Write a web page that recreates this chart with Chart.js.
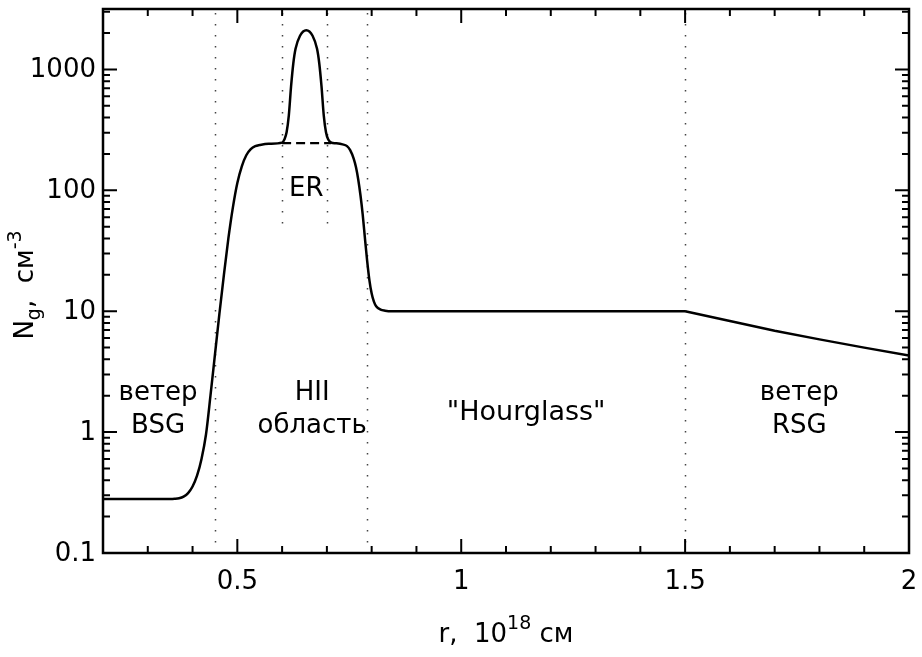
<!DOCTYPE html>
<html>
<head>
<meta charset="utf-8">
<script src="https://cdn.jsdelivr.net/npm/chart.js@4/dist/chart.umd.min.js"></script>
<style>
  html, body { margin: 0; padding: 0; background: #fff; }
</style>
</head>
<body>
<canvas id="chart" width="922" height="657"></canvas>
<script>
// gas density profile, r in 10^18 cm, N in cm^-3
const radius = [
  0.20, 0.30, 0.35, 0.36, 0.37, 0.38, 0.39, 0.40, 0.41, 0.42, 0.43, 0.44, 0.45,
  0.46, 0.47, 0.48, 0.49, 0.50, 0.51, 0.52, 0.53, 0.54, 0.55, 0.57, 0.60,
  0.605, 0.61, 0.615, 0.62, 0.625, 0.63, 0.64, 0.654, 0.668, 0.678, 0.683,
  0.688, 0.693, 0.698, 0.703, 0.71, 0.72, 0.735, 0.745, 0.752, 0.76, 0.765,
  0.77, 0.775, 0.78, 0.785, 0.79, 0.795, 0.80, 0.805, 0.81, 0.82, 0.83, 0.845,
  1.0, 1.5
];
const density = [
  0.28, 0.28, 0.28, 0.281, 0.284, 0.293, 0.313, 0.355, 0.436, 0.60, 0.955, 2.0, 4.37,
  9.55, 20, 40, 72, 115, 158, 195, 219, 232, 237, 243, 248,
  263, 302, 417, 724, 1120, 1480, 1900, 2110, 1900, 1480, 1120,
  724, 417, 302, 263, 248, 245, 240, 232, 215, 182, 155,
  123, 91, 63, 40, 26, 18, 14, 12, 11, 10.3, 10.1, 10,
  10, 10
];

// RSG wind beyond 1.5
const windRadius = [1.5, 1.6, 1.7, 1.8, 1.9, 2.0];
const windDensity = [10, 8.3, 6.9, 5.85, 5.0, 4.3];

// ER base (dashed)
const erRadius = [0.60, 0.71];
const erDensity = [246, 246];

// dotted dividers: position and lowest density reached
const dividerRadius = [0.45, 0.60, 0.70, 0.79, 1.5];
const dividerBottom = [0.1, 50, 50, 0.1, 0.1];

const xTickLabels = [0.5, 1, 1.5, 2];
const yTickLabels = [0.1, 1, 10, 100, 1000];

const regionLabels = [
  { x: 0.323, y: 1.85, lines: ['ветер', 'BSG'], size: 26 },
  { x: 0.667, y: 1.85, lines: ['HII', 'область'], size: 26 },
  { x: 1.145, y: 1.265, lines: ['"Hourglass"'], size: 27 },
  { x: 1.755, y: 1.85, lines: ['ветер', 'RSG'], size: 26 },
  { x: 0.654, y: 89, lines: ['ER'], size: 26 },
];

const FONT = '"DejaVu Sans", sans-serif';

const frame = {
  id: 'frame',
  beforeDatasetsDraw(chart) {
    const { ctx, chartArea: a, scales: { x, y } } = chart;
    ctx.save();
    ctx.strokeStyle = '#444';
    ctx.lineWidth = 1.5;
    ctx.setLineDash([1.5, 9.5]);
    dividerRadius.forEach((r, i) => {
      const px = Math.round(x.getPixelForValue(r)) + 0.5;
      ctx.beginPath();
      ctx.moveTo(px, a.top + 4);
      ctx.lineTo(px, y.getPixelForValue(dividerBottom[i]));
      ctx.stroke();
    });
    ctx.restore();
  },
  afterDatasetsDraw(chart) {
    const { ctx, chartArea: a, scales: { x, y } } = chart;
    ctx.save();
    ctx.strokeStyle = '#000';
    ctx.fillStyle = '#000';
    ctx.lineWidth = 2.5;
    ctx.strokeRect(a.left, a.top, a.right - a.left, a.bottom - a.top);

    // inward ticks on all four sides
    ctx.lineWidth = 2;
    ctx.beginPath();
    for (let i = 2; i <= 20; i++) {
      const px = x.getPixelForValue(i / 10);
      const len = i % 5 === 0 ? 14 : 7;
      ctx.moveTo(px, a.bottom); ctx.lineTo(px, a.bottom - len);
      ctx.moveTo(px, a.top); ctx.lineTo(px, a.top + len);
    }
    for (let d = -1; d <= 3; d++) {
      for (let m = 1; m <= 9; m++) {
        const v = m * Math.pow(10, d);
        if (v < y.min || v > y.max) continue;
        const py = y.getPixelForValue(v);
        const len = m === 1 ? 14 : 7;
        ctx.moveTo(a.left, py); ctx.lineTo(a.left + len, py);
        ctx.moveTo(a.right, py); ctx.lineTo(a.right - len, py);
      }
    }
    ctx.stroke();

    // tick labels
    ctx.font = '26px ' + FONT;
    ctx.textAlign = 'center';
    ctx.textBaseline = 'alphabetic';
    xTickLabels.forEach(v => {
      ctx.fillText(String(v), x.getPixelForValue(v), a.bottom + 36);
    });
    ctx.textAlign = 'right';
    ctx.textBaseline = 'middle';
    yTickLabels.forEach(v => {
      ctx.fillText(String(v), a.left - 7, y.getPixelForValue(v) + 1);
    });

    // region labels
    ctx.textAlign = 'center';
    ctx.textBaseline = 'alphabetic';
    regionLabels.forEach(l => {
      ctx.font = l.size + 'px ' + FONT;
      const px = x.getPixelForValue(l.x);
      const py = y.getPixelForValue(l.y);
      l.lines.forEach((t, k) => ctx.fillText(t, px, py + k * 33));
    });

    // x title: r, 10^18 см
    const big = '26px ' + FONT, small = '19px ' + FONT;
    drawParts(ctx, [['r,  10', big, 0], ['18', small, -13], [' см', big, 0]], (a.left + a.right) / 2, 642);

    // y title: N_g,  см^-3 (rotated)
    ctx.save();
    ctx.translate(33, (a.top + a.bottom) / 2 + 4);
    ctx.rotate(-Math.PI / 2);
    drawParts(ctx, [['N', big, 0], ['g', small, 7], [',  см', big, 0], ['-3', small, -12]], 0, 0);
    ctx.restore();

    ctx.restore();
  }
};

function drawParts(ctx, parts, cx, baseline) {
  let total = 0;
  parts.forEach(p => { ctx.font = p[1]; total += ctx.measureText(p[0]).width; });
  let px = cx - total / 2;
  ctx.textAlign = 'left';
  ctx.textBaseline = 'alphabetic';
  parts.forEach(p => {
    ctx.font = p[1];
    ctx.fillText(p[0], px, baseline + p[2]);
    px += ctx.measureText(p[0]).width;
  });
}

const lineStyle = {
  borderColor: '#000',
  borderWidth: 2.5,
  pointRadius: 0,
};

new Chart(document.getElementById('chart'), {
  type: 'line',
  data: {
    datasets: [{
      ...lineStyle,
      data: radius.map((r, i) => ({ x: r, y: density[i] })),
      cubicInterpolationMode: 'monotone',
    }, {
      ...lineStyle,
      data: windRadius.map((r, i) => ({ x: r, y: windDensity[i] })),
      tension: 0,
    }, {
      ...lineStyle,
      data: erRadius.map((r, i) => ({ x: r, y: erDensity[i] })),
      borderWidth: 2.3,
      borderDash: [9, 5],
    }],
  },
  options: {
    responsive: false,
    animation: false,
    layout: { padding: { left: 103, right: 13, top: 9, bottom: 104 } },
    plugins: {
      legend: { display: false },
      tooltip: { enabled: false },
    },
    scales: {
      x: { type: 'linear', min: 0.2, max: 2, display: false },
      y: { type: 'logarithmic', min: 0.1, max: 3162, display: false },
    },
  },
  plugins: [frame],
});
</script>
</body>
</html>
